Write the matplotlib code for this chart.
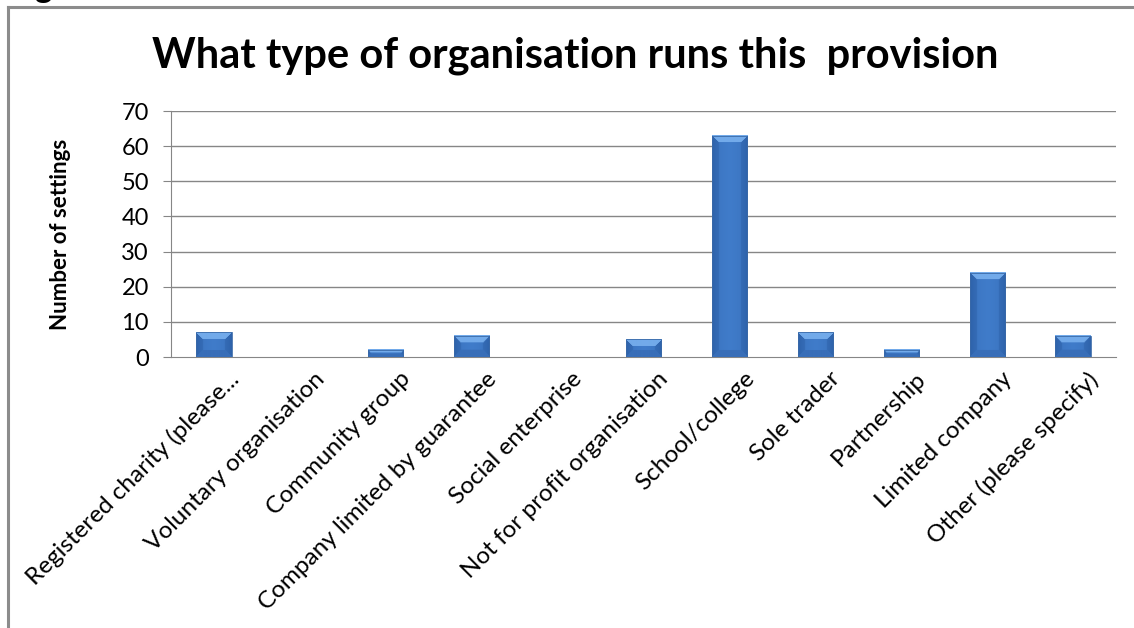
import matplotlib
matplotlib.use("Agg")
import matplotlib.pyplot as plt
import matplotlib.transforms as mtrans
import numpy as np
from matplotlib.lines import Line2D

categories = ["Registered charity (please...", "Voluntary organisation", "Community group",
              "Company limited by guarantee", "Social enterprise", "Not for profit organisation",
              "School/college", "Sole trader", "Partnership", "Limited company",
              "Other (please specify)"]
values = [7, 0, 2, 6, 0, 5, 63, 7, 2, 24, 6]
yticks = [0, 10, 20, 30, 40, 50, 60, 70]
title = "What type of organisation runs this  provision"
ylabel = "Number of settings"

FONT = ["Lato", "DejaVu Sans"]
plt.rcParams['font.family'] = FONT

W, H, DPI = 1134, 628, 100
fig = plt.figure(figsize=(W / DPI, H / DPI), dpi=DPI)
ax = fig.add_axes([171 / W, 1 - 357 / H, (1116 - 171) / W, (357 - 111) / H])

x = np.arange(len(categories))
bw = 0.41
ax.set_xlim(-0.5, len(categories) - 0.5)
ax.set_ylim(0, 70)

for yv in yticks[1:]:
    ax.axhline(yv, color="#868686", lw=1.0, zorder=1)

# bevelled bars via images
fig.canvas.draw()
trans = ax.transData
top_c = np.array([0x72, 0xaa, 0xea]) / 255
mid_c = np.array([0x40, 0x7c, 0xca]) / 255
side_c = np.array([0x2e, 0x62, 0xaa]) / 255
bot_c = np.array([0x38, 0x6e, 0xb8]) / 255
for xi, v in zip(x, values):
    if v <= 0:
        continue
    p0 = trans.transform((xi - bw / 2, 0))
    p1 = trans.transform((xi + bw / 2, v))
    wpx = max(int(round(p1[0] - p0[0])), 2)
    hpx = max(int(round(p1[1] - p0[1])), 2)
    bev = min(7, wpx / 2, hpx / 2)
    img = np.zeros((hpx, wpx, 3))
    for r in range(hpx):
        for c in range(wpx):
            dt = r + 0.5
            db = hpx - r - 0.5
            dl = c + 0.5
            dr = wpx - c - 0.5
            m = min(dt, db, dl, dr)
            if m >= bev:
                t = abs((c + 0.5) / wpx - 0.5) * 2
                col = mid_c * (1 - 0.3 * t) + side_c * 0.3 * t
            elif m == dt:
                col = top_c
            elif m == db:
                col = bot_c
            else:
                f = m / bev
                col = side_c * (1 - 0.4 * f) + mid_c * 0.4 * f
            img[r, c] = col
    ax.imshow(img, extent=(xi - bw / 2, xi + bw / 2, 0, v), aspect="auto",
              interpolation="bilinear", zorder=3)
    ax.add_patch(plt.Rectangle((xi - bw / 2, 0), bw, v, fill=False,
                               edgecolor="#3a6aa8", lw=0.6, zorder=4))

ax.set_xlim(-0.5, len(categories) - 0.5)
ax.set_ylim(0, 70)

for s in ["top", "right"]:
    ax.spines[s].set_visible(False)
ax.spines["left"].set_color("#868686")
ax.spines["bottom"].set_color("#868686")
ax.spines["left"].set_zorder(2)

ax.set_yticks(yticks)
ax.set_yticklabels([str(t) for t in yticks], fontsize=17)
ax.tick_params(axis="y", length=6, color="#868686", pad=10, labelcolor="black")
ax.set_xticks(x)
ax.set_xticklabels(categories, rotation=45, ha="right", rotation_mode="anchor", fontsize=17.5)
ax.tick_params(axis="x", length=0, pad=8)
off = mtrans.ScaledTranslation(14 / DPI, 0, fig.dpi_scale_trans)
for lab in ax.get_xticklabels():
    lab.set_transform(lab.get_transform() + off)

ax.set_ylabel(ylabel, fontsize=16, fontweight="bold", labelpad=36)
fig.text(575 / W, 1 - 56 / H, title, ha="center", va="center", fontsize=30, fontweight="bold")

# frame and cut-off text fragment
fig.add_artist(Line2D([7.5 / W, 7.5 / W], [0, 1 - 7 / H], color="#8c8c8c", lw=2.2))
fig.add_artist(Line2D([7.5 / W, 1], [1 - 7 / H, 1 - 7 / H], color="#8c8c8c", lw=2.2))
fig.text(34 / W, 1 + 2 / H, "g", fontsize=24, fontweight="bold", va="baseline", ha="left")

fig.savefig("out.png", dpi=DPI)
